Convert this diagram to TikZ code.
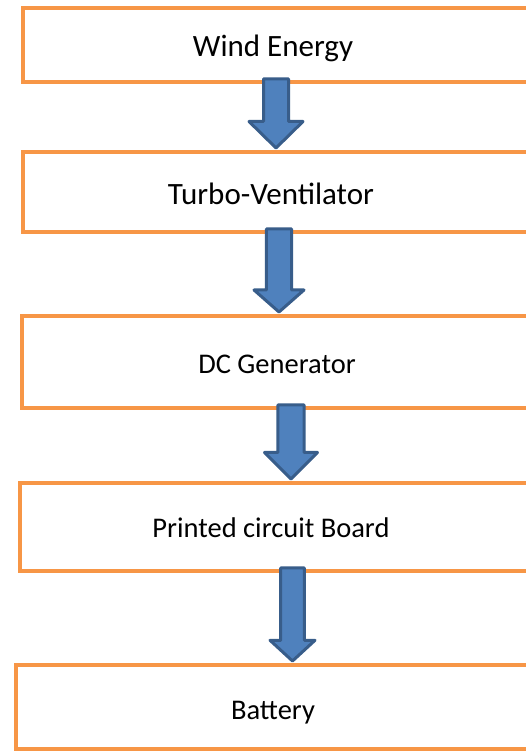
\documentclass[tikz,border=0pt]{standalone}
\usepackage{fontspec}
\setmainfont{Carlito}
\usetikzlibrary{positioning, calc}
\definecolor{stageorange}{HTML}{F79646}
\definecolor{arrowfill}{HTML}{4F81BD}
\definecolor{arrowline}{HTML}{385D8A}
\def\boxwidth{545pt}

% block arrow from one stage to the next:
% #1 from, #2 to, #3 x, #4 half shaft, #5 half head, #6 head length
\newcommand{\flowarrow}[6]{%
  \coordinate (#1-out) at (#3,0 |- #1.south);
  \coordinate (#2-in)  at (#3,0 |- #2.north);
  \draw [flowarrow]
    ($(#1-out)+(-#4,3)$) -- ($(#2-in)+(-#4,#6+4)$) -- ($(#2-in)+(-#5,#6+4)$)
    -- ($(#2-in)+(0,4)$)
    -- ($(#2-in)+(#5,#6+4)$) -- ($(#2-in)+(#4,#6+4)$) -- ($(#1-out)+(#4,3)$)
    -- cycle;
}

\begin{document}
\begin{tikzpicture}[x=1pt, y=1pt]

  \tikzset{
    stagebox/.style = {
      rectangle, draw=stageorange, line width=3.8pt, fill=white,
      minimum width=\boxwidth, outer sep=0pt, inner sep=0pt
    },
    stagetext/.style = {
      anchor=base, font=\fontsize{28.5}{34}\selectfont, inner sep=0pt
    },
    bigtext/.style = {
      stagetext, font=\fontsize{31}{36}\selectfont
    },
    flowarrow/.style = {
      draw=arrowline, fill=arrowfill, line width=3pt, line join=round
    }
  }

  \useasboundingbox (0,0) rectangle (526,751);

  % --- Stages ----------------------------------------------------------------
  \node (wind)    [stagebox, minimum height=74pt, anchor=north west] at (23,743) {};
  \node (turbo)   [stagebox, minimum height=80pt, below=70pt of wind.south west,
                   anchor=north west] {};
  \node (dcgen)   [stagebox, minimum height=92pt, below=84pt of turbo.south west,
                   anchor=north west, xshift=-1pt] {};
  \node (pcb)     [stagebox, minimum height=88pt, below=75pt of dcgen.south west,
                   anchor=north west, xshift=-2pt] {};
  \node (battery) [stagebox, minimum height=84pt, below=94pt of pcb.south west,
                   anchor=north west, xshift=-4pt] {};

  % --- Stage labels ----------------------------------------------------------
  \node (windtext)    [bigtext] at ([xshift=250pt, yshift=-49pt]wind.north west) {Wind Energy};
  \node (turbotext)   [bigtext] at ([xshift=248pt, yshift=-53pt]turbo.north west) {Turbo-Ventilator};
  \node (dcgentext)   [stagetext] at ([xshift=255pt, yshift=-58pt]dcgen.north west) {DC Generator};
  \node (pcbtext)     [stagetext] at ([xshift=251pt, yshift=-55pt]pcb.north west) {Printed circuit Board};
  \node (batterytext) [stagetext] at ([xshift=257pt, yshift=-55pt]battery.north west) {Battery};

  % --- Flow arrows -----------------------------------------------------------
  \flowarrow{wind}{turbo}{276}{12.5}{27}{26.5}
  \flowarrow{turbo}{dcgen}{279}{12.7}{25}{22}
  \flowarrow{dcgen}{pcb}{291}{13.2}{26.5}{26.5}
  \flowarrow{pcb}{battery}{292.5}{11.8}{22.5}{20.7}

\end{tikzpicture}
\end{document}
